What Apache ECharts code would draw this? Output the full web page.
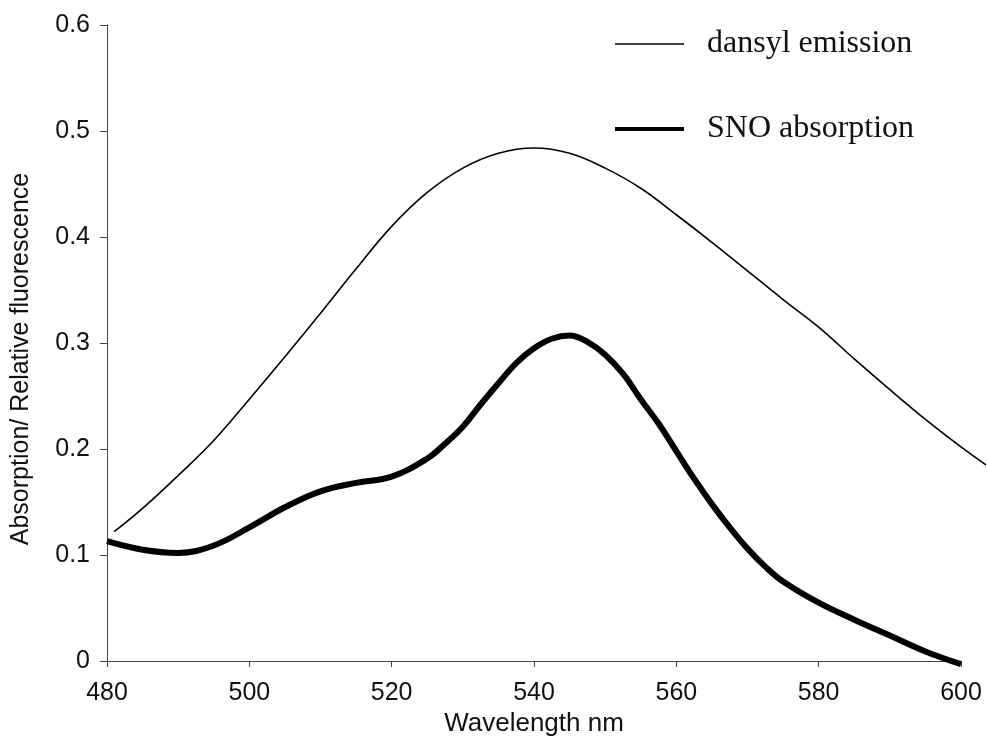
<!DOCTYPE html>
<html>
<head>
<meta charset="utf-8">
<script src="https://cdn.jsdelivr.net/npm/echarts@6/dist/echarts.min.js"></script>
<style>
  html, body { margin: 0; padding: 0; background: #fff; }
  #chart { width: 987px; height: 746px; }
</style>
</head>
<body>
<div id="chart"></div>
<script>
// wavelength (nm) and values
const emissionWl = [481, 485, 490, 495, 500, 505, 510, 515, 520, 525, 530, 535, 540, 545, 550, 555, 560, 565, 570, 575, 580, 585, 590, 595, 600, 603.5];
const emissionVal = [0.122, 0.144, 0.175, 0.208, 0.247, 0.287, 0.328, 0.370, 0.410, 0.442, 0.465, 0.479, 0.484, 0.479, 0.465, 0.446, 0.421, 0.395, 0.368, 0.341, 0.315, 0.285, 0.256, 0.228, 0.202, 0.185];

const snoWl = [480, 485, 490, 495, 500, 505, 510, 515, 520, 525, 527.5, 530, 532.5, 535, 537.5, 540, 542.5, 545, 547.5, 550, 552.5, 555, 557.5, 560, 562.5, 565, 567.5, 570, 572.5, 575, 580, 585, 590, 595, 600];
const snoVal = [0.113, 0.105, 0.102, 0.109, 0.126, 0.145, 0.160, 0.168, 0.174, 0.191, 0.205, 0.221, 0.242, 0.262, 0.281, 0.295, 0.304, 0.307, 0.301, 0.289, 0.271, 0.247, 0.224, 0.198, 0.172, 0.148, 0.126, 0.106, 0.089, 0.075, 0.055, 0.039, 0.024, 0.009, -0.003];

const seriesNames = ["dansyl emission", "SNO absorption"];

const pair = (xs, ys) => xs.map((x, i) => [x, ys[i]]);

// the emission trace runs a little past the 600 nm end of the axis,
// so it sits on a hidden, wider twin of the x axis with the same scale
const xMin = 480, xMax = 600, xMaxEmission = 603.5;
const plotLeft = 107, plotWidth = 854;

let chart = echarts.init(document.getElementById("chart"), null, { renderer: "canvas" });

const fontSans = "Liberation Sans";

let option = {
  backgroundColor: "#fff",
  animation: false,
  grid: [
    { left: plotLeft, width: plotWidth, top: 25, bottom: 85 },
    { left: plotLeft, width: plotWidth * (xMaxEmission - xMin) / (xMax - xMin), top: 25, bottom: 85 },
  ],
  legend: {
    data: [
      { name: seriesNames[0], lineStyle: { width: 1.6, color: "#000" } },
      { name: seriesNames[1], lineStyle: { width: 4, color: "#000" } },
    ],
    orient: "vertical",
    left: 608,
    top: 23,
    itemWidth: 69,
    itemHeight: 14,
    itemGap: 53,
    itemStyle: { opacity: 0 },
    textStyle: {
      fontFamily: "Liberation Serif",
      fontSize: 32,
      color: "#111",
      lineHeight: 30,
      padding: [0, 0, 0, 18],
    },
  },
  xAxis: [
    {
      gridIndex: 0,
      type: "value",
      min: xMin,
      max: xMax,
      interval: 20,
      name: "Wavelength nm",
      nameLocation: "middle",
      nameGap: 50,
      nameTextStyle: { fontFamily: fontSans, fontSize: 26, color: "#111" },
      axisLine: { lineStyle: { color: "#444", width: 1 } },
      axisTick: { show: true, length: 6, lineStyle: { color: "#444" } },
      axisLabel: { margin: 20, fontFamily: fontSans, fontSize: 25, color: "#111" },
      splitLine: { show: false },
    },
    {
      gridIndex: 1,
      type: "value",
      min: xMin,
      max: xMaxEmission,
      show: false,
      splitLine: { show: false },
    },
  ],
  yAxis: [
    {
      gridIndex: 0,
      type: "value",
      min: 0,
      max: 0.6,
      interval: 0.1,
      name: "Absorption/ Relative fluorescence",
      nameLocation: "middle",
      nameGap: 73,
      nameTextStyle: {
        fontFamily: fontSans,
        fontSize: 25,
        color: "#111",
        padding: [0, 32, 0, 0],
      },
      axisLine: { show: true, lineStyle: { color: "#444", width: 1 } },
      axisTick: { show: true, length: 7, lineStyle: { color: "#444" } },
      axisLabel: { margin: 17, fontFamily: fontSans, fontSize: 25, color: "#111" },
      splitLine: { show: false },
    },
    {
      gridIndex: 1,
      type: "value",
      min: 0,
      max: 0.6,
      show: false,
      splitLine: { show: false },
    },
  ],
  series: [
    {
      name: seriesNames[0],
      type: "line",
      xAxisIndex: 1,
      yAxisIndex: 1,
      data: pair(emissionWl, emissionVal),
      smooth: 0.4,
      showSymbol: false,
      symbol: "none",
      clip: false,
      lineStyle: { color: "#000", width: 1.6 },
      itemStyle: { color: "#000" },
    },
    {
      name: seriesNames[1],
      type: "line",
      xAxisIndex: 0,
      yAxisIndex: 0,
      data: pair(snoWl, snoVal),
      smooth: 0.4,
      showSymbol: false,
      symbol: "none",
      clip: false,
      lineStyle: { color: "#000", width: 6 },
      itemStyle: { color: "#000" },
    },
  ],
};

chart.setOption(option);
</script>
</body>
</html>
